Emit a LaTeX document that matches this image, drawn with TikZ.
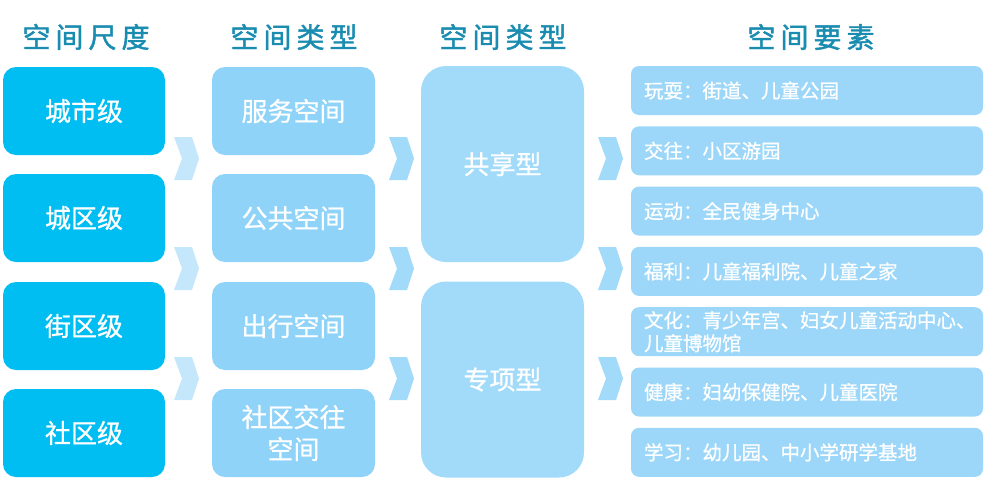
\documentclass[tikz,border=0pt]{standalone}
\usepackage{fontspec}
\setmainfont{Noto Sans CJK SC}
\newfontfamily\headfont[LetterSpace=18,FakeBold=1.6]{Noto Sans CJK SC}
\newfontfamily\boxfont[FakeBold=0.8]{Noto Sans CJK SC}
\definecolor{headcol}{RGB}{26,140,176}
\definecolor{scalecol}{RGB}{0,190,242}
\definecolor{typecol}{RGB}{143,211,248}
\definecolor{groupcol}{RGB}{162,218,250}
\definecolor{elemcol}{RGB}{156,215,249}
\definecolor{chevlight}{RGB}{196,231,251}
\definecolor{chevdark}{RGB}{162,218,250}
\begin{document}
\begin{tikzpicture}[x=1pt,y=-1pt,
    head/.style={text=headcol,font=\headfont\fontsize{28}{30}\selectfont,inner sep=0pt},
    scalebox/.style={fill=scalecol,rounded corners=13pt,minimum width=162pt,minimum height=88pt,
      inner sep=0pt,text=white,font=\boxfont\fontsize{26}{32}\selectfont,align=center},
    typebox/.style={scalebox,fill=typecol,minimum width=163pt},
    groupbox/.style={scalebox,fill=groupcol,rounded corners=25pt,minimum width=163pt,minimum height=196pt},
    elembox/.style={fill=elemcol,rounded corners=8pt,minimum width=352pt,minimum height=49pt,
      text width=326pt,inner xsep=13pt,inner ysep=0pt,text=white,
      font=\boxfont\fontsize{19.5}{23}\selectfont,align=left}]
  \useasboundingbox (0,0) rectangle (1000,482);

  \node[head] (h1) at (86,37) {空间尺度};
  \node[head] (h2) at (294,37) {空间类型};
  \node[head] (h3) at (503,37) {空间类型};
  \node[head] (h4) at (811,37) {空间要素};

  \foreach \i/\y/\txt in {1/111/城市级,2/218/城区级,3/326/街区级,4/433/社区级}
    \node[scalebox] (s\i) at (84,\y) {\txt};

  \foreach \i/\y/\txt in {1/111/服务空间,2/218/公共空间,3/326/出行空间,4/433/{社区交往\\空间}}
    \node[typebox] (t\i) at (293.5,\y) {\txt};

  \node[groupbox] (g1) at (502.5,164) {共享型};
  \node[groupbox] (g2) at (502.5,379.5) {专项型};

  \foreach \i/\txt in {0/{玩耍：街道、儿童公园},1/{交往：小区游园},2/{运动：全民健身中心},
      3/{福利：儿童福利院、儿童之家},4/{文化：青少年宫、妇女儿童活动中心、\\儿童博物馆},
      5/{健康：妇幼保健院、儿童医院},6/{学习：幼儿园、中小学研学基地}}
    \node[elembox] (e\i) at (807,90.5+60.3*\i) {\txt};

  \foreach \x/\c in {174/chevlight,389/chevdark,598/chevdark}
    \foreach \y in {137,247,357}
      \fill[\c] (\x,\y) -- ++(18,0) -- ++(7,21.5) -- ++(-7,21.5) -- ++(-18,0) -- ++(8,-21.5) -- cycle;

\end{tikzpicture}
\end{document}
